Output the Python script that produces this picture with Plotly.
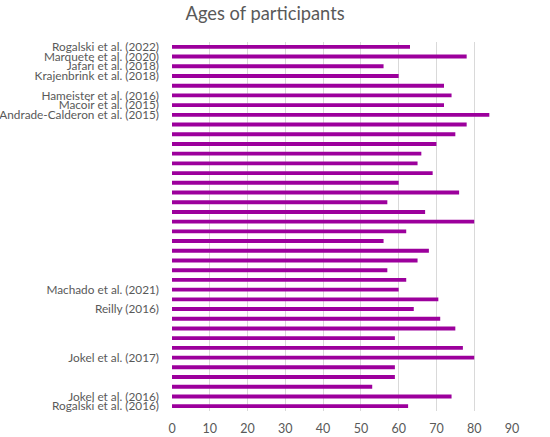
import plotly.graph_objects as go

labels = [
    "Rogalski et al. (2022)", "Marquete et al. (2020)", "Jafari et al. (2018)",
    "Krajenbrink et al. (2018)", "", "Hameister et al. (2016)", "Macoir et al. (2015)",
    "Andrade-Calderon et al. (2015)", "", "", "", "", "", "", "", "", "", "", "", "",
    "", "", "", "", "", "Machado et al. (2021)", "", "Reilly (2016)", "", "", "", "",
    "Jokel et al. (2017)", "", "", "", "Jokel et al. (2016)", "Rogalski et al. (2016)",
]
ages = [
    63, 78, 56, 60, 72, 74, 72, 84, 78, 75, 70, 66, 65, 69,
    60, 76, 57, 67, 80, 62, 56, 68, 65, 57, 62, 60,
    70.5, 64, 71, 75, 59, 77, 80, 59, 59, 53, 74, 62.5,
]
x_ticks = [0, 10, 20, 30, 40, 50, 60, 70, 80, 90]

positions = list(range(len(ages)))

fig = go.Figure(go.Bar(
    x=ages, y=positions, orientation="h",
    marker=dict(color="#9C009C", line=dict(width=0)),
    width=0.4,
))

font_family = "Lato"
fig.update_layout(
    width=550, height=437,
    margin=dict(l=172, r=38, t=42, b=26, autoexpand=False),
    paper_bgcolor="white", plot_bgcolor="white",
    title=dict(text="Ages of participants", x=0.482, xanchor="center", y=0.970, yanchor="middle",
               automargin=False,
               font=dict(family=font_family, size=18.3, color="#595959")),
    font=dict(family=font_family, color="#595959", size=12),
    showlegend=False,
    bargap=0.6,
)
fig.update_xaxes(range=[0, 90], tickvals=x_ticks, showgrid=True, gridcolor="#D9D9D9",
                 gridwidth=1, zeroline=False, showline=False, ticks="", automargin=False,
                 ticklabelstandoff=8,
                 tickfont=dict(size=12.5, color="#595959"))
fig.update_yaxes(tickvals=positions, ticktext=labels, autorange=False, automargin=False,
                 range=[len(ages) - 0.5, -0.5], showgrid=False, zeroline=False,
                 showline=False, ticks="", ticklabelstandoff=12,
                 tickfont=dict(size=11.8, color="#595959"))

fig.write_html("out.html", config={"displayModeBar": False},
               post_script="document.body.style.margin='0';")
